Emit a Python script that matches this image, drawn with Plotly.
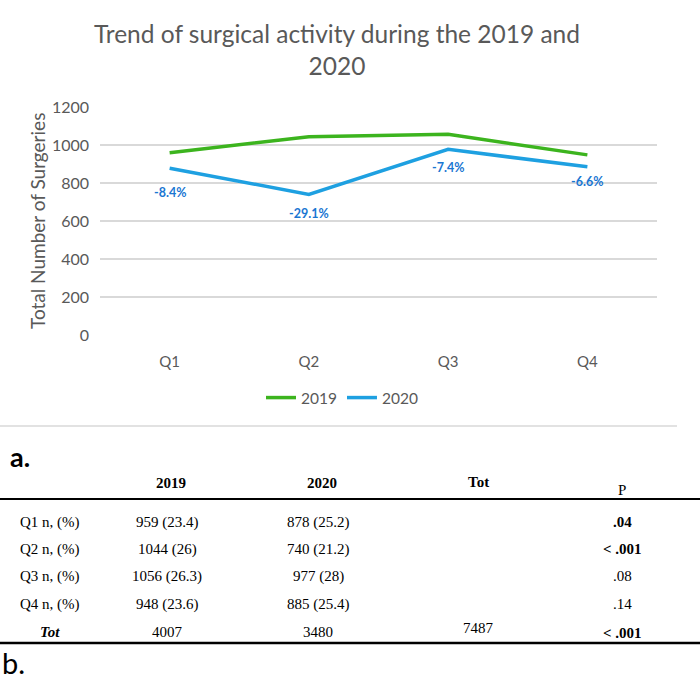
import plotly.graph_objects as go

# chart data
quarters = ["Q1", "Q2", "Q3", "Q4"]
surgeries_2019 = [959, 1044, 1056, 948]
surgeries_2020 = [878, 740, 977, 885]
change_labels = ["-8.4%", "-29.1%", "-7.4%", "-6.6%"]

# table data
row_labels = ["Q1 n, (%)", "Q2 n, (%)", "Q3 n, (%)", "Q4 n, (%)"]
share_2019 = ["23.4", "26", "26.3", "23.6"]
share_2020 = ["25.2", "21.2", "28", "25.4"]
p_values = [".04", "< .001", ".08", ".14"]
p_bold = [True, True, False, False]
total_2019 = 4007
total_2020 = 3480
total_all = 7487
total_p = "< .001"

W, H = 700, 681
GREEN = "#3cb41e"
BLUE = "#1ea0e1"
LABEL_BLUE = "#1a76d2"
GREY_TXT = "#595959"
CHART_FONT = "Lato"
TABLE_FONT = "Liberation Serif"

# pixel helpers -> paper coords (margins are zero so paper == page)
def px(x):
    return x / W


def py(y):
    return 1 - y / H


fig = go.Figure()
fig.add_trace(go.Scatter(
    x=quarters, y=surgeries_2019, mode="lines", name="2019",
    line=dict(color=GREEN, width=3.5),
))
fig.add_trace(go.Scatter(
    x=quarters, y=surgeries_2020, mode="lines", name="2020",
    line=dict(color=BLUE, width=3.5),
))

annotations = []

# percent change labels under the 2020 line
label_shift = [-24, -19, -18, -15]
for q, v, t, s in zip(quarters, surgeries_2020, change_labels, label_shift):
    annotations.append(dict(
        x=q, y=v, xref="x", yref="y", text=f"<b>{t}</b>", showarrow=False,
        yshift=s, xanchor="center", yanchor="middle",
        font=dict(family=CHART_FONT, size=12.5, color=LABEL_BLUE),
    ))

# y axis title
annotations.append(dict(
    x=px(37), y=py(221), xref="paper", yref="paper", textangle=-90,
    xanchor="center", yanchor="middle",
    text="Total Number of Surgeries", showarrow=False,
    font=dict(family=CHART_FONT, size=19, color=GREY_TXT),
))

# panel letters
annotations.append(dict(
    x=px(8), y=py(456), xref="paper", yref="paper", xanchor="left",
    yanchor="middle", text="<b>a.</b>", showarrow=False,
    font=dict(family=CHART_FONT, size=27, color="black"),
))
annotations.append(dict(
    x=px(0), y=py(662), xref="paper", yref="paper", xanchor="left",
    yanchor="middle", text="b.", showarrow=False,
    font=dict(family=CHART_FONT, size=29, color="black"),
))

# table
col_x = [50, 167, 318, 478, 622]
row_y = [522, 549, 576, 604]
tfont = dict(family=TABLE_FONT, size=15, color="black")


def cell(x, y, text):
    annotations.append(dict(
        x=px(x), y=py(y), xref="paper", yref="paper", text=text,
        xanchor="center", yanchor="middle", showarrow=False, font=tfont,
    ))


cell(col_x[1] + 4, 483, "<b>2019</b>")
cell(col_x[2] + 4, 483, "<b>2020</b>")
cell(col_x[3], 482, "<b>Tot</b>")
cell(col_x[4], 490, "P")

for i, lab in enumerate(row_labels):
    cell(col_x[0], row_y[i], lab)
    cell(col_x[1], row_y[i], f"{surgeries_2019[i]} ({share_2019[i]})")
    cell(col_x[2], row_y[i], f"{surgeries_2020[i]} ({share_2020[i]})")
    cell(col_x[4], row_y[i], f"<b>{p_values[i]}</b>" if p_bold[i] else p_values[i])

cell(col_x[0], 632, "<b><i>Tot</i></b>")
cell(col_x[1], 632, str(total_2019))
cell(col_x[2], 632, str(total_2020))
cell(col_x[3], 628, str(total_all))
cell(col_x[4], 633, f"<b>{total_p}</b>")

shapes = [
    dict(type="line", xref="paper", yref="paper", x0=0, x1=px(677),
         y0=py(426), y1=py(426), line=dict(color="#d9d9d9", width=1.5)),
    dict(type="line", xref="paper", yref="paper", x0=0, x1=1,
         y0=py(499), y1=py(499), line=dict(color="black", width=2)),
    dict(type="line", xref="paper", yref="paper", x0=0, x1=1,
         y0=py(643), y1=py(643), line=dict(color="black", width=2.5)),
]

fig.update_layout(
    width=W, height=H,
    margin=dict(l=0, r=0, t=0, b=0, autoexpand=False),
    paper_bgcolor="white", plot_bgcolor="white",
    font=dict(family=CHART_FONT, color=GREY_TXT),
    title=dict(
        text="Trend of surgical activity during the 2019 and<br>2020",
        x=px(337), xanchor="center", y=py(43), yanchor="middle",
        yref="container", xref="paper",
        font=dict(family=CHART_FONT, size=24.5, color=GREY_TXT),
    ),
    xaxis=dict(
        domain=[px(100), px(657)], range=[-0.5, 3.5], type="category",
        showgrid=False, zeroline=False, showline=False, ticks="",
        ticklabelstandoff=16, tickfont=dict(size=15, color=GREY_TXT),
    ),
    yaxis=dict(
        domain=[py(335), py(107)], range=[0, 1200], dtick=200,
        showgrid=True, gridcolor="#d9d9d9", gridwidth=1.6,
        zeroline=False, showline=False, ticks="",
        ticklabelstandoff=10, tickfont=dict(size=16, color=GREY_TXT),
    ),
    legend=dict(
        orientation="h", x=px(342), xanchor="center", y=py(398),
        yanchor="middle", font=dict(size=15.5, color=GREY_TXT),
        itemwidth=30, tracegroupgap=0,
    ),
    showlegend=True,
    annotations=annotations,
    shapes=shapes,
)

# remove the default body margin so the figure fills the window exactly
fig.write_html(
    "out.html",
    config={"displayModeBar": False},
    post_script="document.body.style.margin='0';document.body.style.overflow='hidden';",
)
